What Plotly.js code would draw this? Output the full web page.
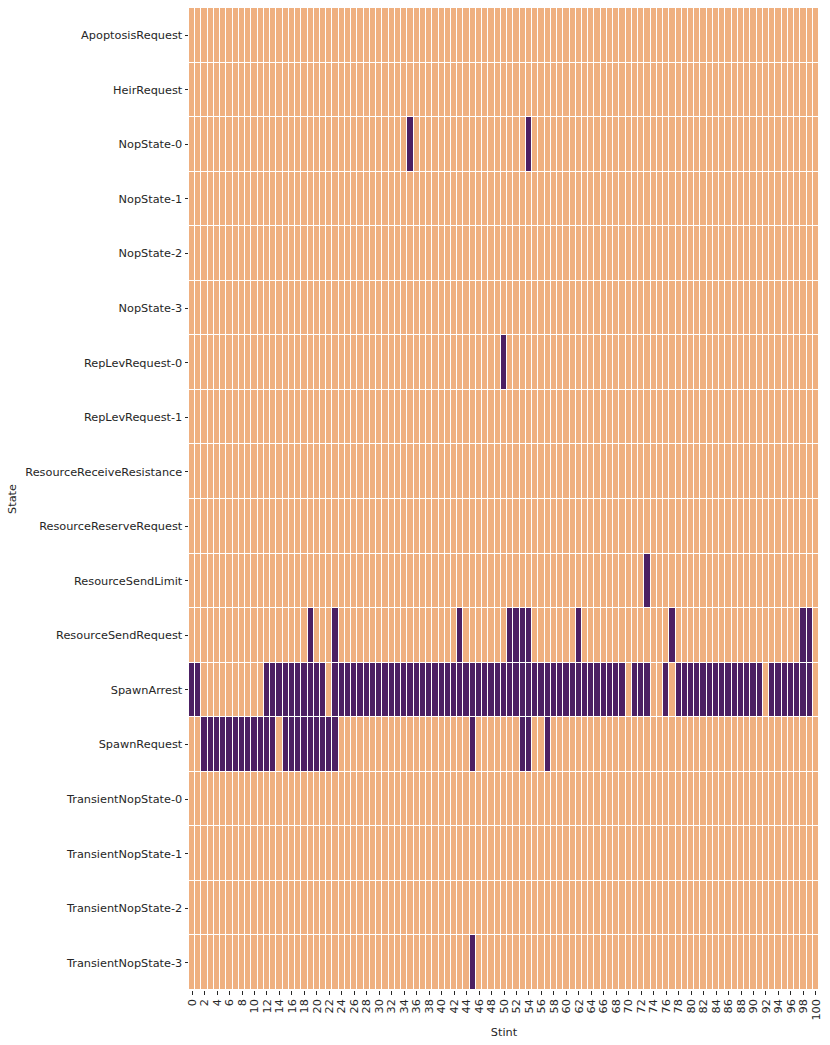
<!DOCTYPE html>
<html>
<head>
<meta charset="utf-8">
<script src="https://cdn.plot.ly/plotly-3.0.1.min.js"></script>
<style>
  html, body { margin: 0; padding: 0; background: #fff; }
  #chart { width: 830px; height: 1045px; }
</style>
</head>
<body>
<div id="chart"></div>
<script>
// rows, top to bottom
const states = [
    'ApoptosisRequest', 'HeirRequest',
    'NopState-0', 'NopState-1', 'NopState-2', 'NopState-3',
    'RepLevRequest-0', 'RepLevRequest-1',
    'ResourceReceiveResistance', 'ResourceReserveRequest',
    'ResourceSendLimit', 'ResourceSendRequest',
    'SpawnArrest', 'SpawnRequest',
    'TransientNopState-0', 'TransientNopState-1', 'TransientNopState-2', 'TransientNopState-3'
];

const stints = Array.from({ length: 101 }, (_, i) => i);

// stints where each state was active (dark cells)
const nopState0 = [35, 54];
const repLevRequest0 = [50];
const resourceSendLimit = [73];
const resourceSendRequest = [19, 23, 43, 51, 52, 53, 54, 62, 77, 98, 99];
const spawnArrest = [0, 1, 12, 13, 14, 15, 16, 17, 18, 19, 20, 21,
    23, 24, 25, 26, 27, 28, 29, 30, 31, 32, 33, 34, 35, 36, 37, 38, 39, 40, 41, 42, 43, 44, 45, 46,
    47, 48, 49, 50, 51, 52, 53, 54, 55, 56, 57, 58, 59, 60, 61, 62, 63, 64, 65, 66, 67, 68, 69,
    71, 72, 73, 76, 78, 79, 80, 81, 82, 83, 84, 85, 86, 87, 88, 89, 90, 91,
    93, 94, 95, 96, 97, 98, 99];
const spawnRequest = [2, 3, 4, 5, 6, 7, 8, 9, 10, 11, 12, 13,
    15, 16, 17, 18, 19, 20, 21, 22, 23, 45, 53, 54, 57];
const transientNopState3 = [45];

const active = {
    'NopState-0': nopState0,
    'RepLevRequest-0': repLevRequest0,
    'ResourceSendLimit': resourceSendLimit,
    'ResourceSendRequest': resourceSendRequest,
    'SpawnArrest': spawnArrest,
    'SpawnRequest': spawnRequest,
    'TransientNopState-3': transientNopState3
};

const z = states.map(s => {
    const on = new Set(active[s] || []);
    return stints.map(t => on.has(t) ? 1 : 0);
});

const font = { family: 'DejaVu Sans, sans-serif', size: 11.3, color: '#262626' };

Plotly.newPlot('chart', [{
    type: 'heatmap',
    x: stints,
    y: states,
    z,
    zmin: 0,
    zmax: 1,
    colorscale: [[0, 'rgb(239,176,128)'], [0.5, 'rgb(239,176,128)'], [0.5, 'rgb(76,32,99)'], [1, 'rgb(76,32,99)']],
    showscale: false,
    xgap: 1,
    ygap: 1
}], {
    width: 830,
    height: 1045,
    margin: { l: 189, r: 11, t: 8, b: 55 },
    paper_bgcolor: '#fff',
    plot_bgcolor: '#fff',
    font,
    xaxis: {
        title: { text: 'Stint', font: { size: 11.3 }, standoff: 8 },
        tickmode: 'array',
        tickvals: stints.filter(t => t % 2 === 0),
        ticktext: stints.filter(t => t % 2 === 0).map(String),
        tickangle: -90,
        ticks: 'outside',
        ticklen: 3.5,
        tickcolor: '#262626',
        showgrid: false,
        zeroline: false,
        showline: false,
        range: [-0.5, 100.5]
    },
    yaxis: {
        title: { text: 'State', font: { size: 11.3 }, standoff: 6 },
        type: 'category',
        autorange: 'reversed',
        ticks: 'outside',
        ticklen: 3.5,
        tickcolor: '#262626',
        showgrid: false,
        zeroline: false,
        showline: false
    }
}, { displayModeBar: false, staticPlot: true });
</script>
</body>
</html>
